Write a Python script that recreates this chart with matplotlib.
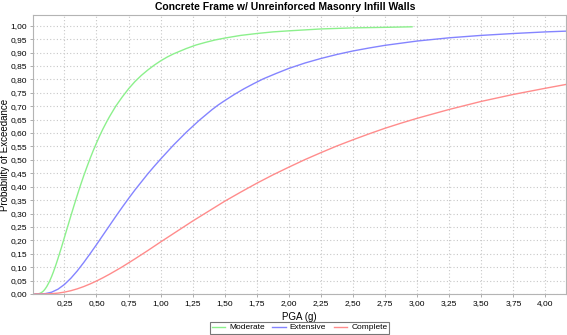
import numpy as np
import matplotlib
matplotlib.use("Agg")
import matplotlib.pyplot as plt
from matplotlib.ticker import FuncFormatter, MultipleLocator

# --- Dados (PGA em g, probabilidade de excedência) ---
title = "Concrete Frame w/ Unreinforced Masonry Infill Walls"
series_names = ["Moderate", "Extensive", "Complete"]

pga_moderate = [0.02, 0.03, 0.04, 0.05, 0.06, 0.07, 0.08, 0.09, 0.10, 0.1125,
                0.125, 0.1375, 0.15, 0.1625, 0.175, 0.1875, 0.20, 0.225, 0.25, 0.275,
                0.30, 0.325, 0.35, 0.375, 0.40, 0.425, 0.45, 0.475, 0.50, 0.525,
                0.55, 0.575, 0.60, 0.65, 0.70, 0.75, 0.80, 0.85, 0.90, 0.95,
                1.00, 1.05, 1.10, 1.20, 1.275, 1.35, 1.425, 1.50, 1.625, 1.75,
                1.875, 2.00, 2.25, 2.50, 2.75, 2.96]
prob_moderate = [0.0, 0.0001, 0.0004, 0.0012, 0.0027, 0.0051, 0.0085, 0.0131, 0.019, 0.0279,
                 0.039, 0.0511, 0.065, 0.0804, 0.097, 0.1144, 0.133, 0.171, 0.211, 0.251,
                 0.291, 0.330, 0.368, 0.405, 0.440, 0.473, 0.505, 0.535, 0.563, 0.590,
                 0.615, 0.638, 0.660, 0.700, 0.734, 0.765, 0.792, 0.815, 0.835, 0.853,
                 0.869, 0.883, 0.895, 0.915, 0.928, 0.938, 0.947, 0.954, 0.964, 0.971,
                 0.977, 0.981, 0.988, 0.992, 0.994, 0.996]

pga_extensive = [0.02, 0.05, 0.10, 0.15, 0.20, 0.25, 0.30, 0.35, 0.40, 0.45, 0.50,
                 0.55, 0.60, 0.65, 0.70, 0.75, 0.80, 0.85, 0.90, 0.95, 1.00,
                 1.05, 1.10, 1.15, 1.20, 1.25, 1.30, 1.35, 1.40, 1.45, 1.50,
                 1.575, 1.65, 1.725, 1.80, 1.90, 2.00, 2.125, 2.25, 2.375, 2.50,
                 2.625, 2.75, 2.875, 3.00, 3.25, 3.50, 3.75, 4.00, 4.17]
prob_extensive = [0.0, 0.0, 0.0013, 0.0067, 0.018, 0.0355, 0.0586, 0.086, 0.117, 0.150, 0.184,
                  0.219, 0.254, 0.289, 0.323, 0.356, 0.388, 0.418, 0.448, 0.476, 0.503,
                  0.529, 0.555, 0.579, 0.603, 0.625, 0.647, 0.667, 0.687, 0.705, 0.721,
                  0.744, 0.765, 0.784, 0.802, 0.822, 0.841, 0.861, 0.878, 0.893, 0.906,
                  0.917, 0.927, 0.935, 0.943, 0.955, 0.964, 0.971, 0.977, 0.980]

pga_complete = [0.02, 0.05, 0.10, 0.15, 0.20, 0.25, 0.30, 0.35, 0.40, 0.45, 0.50,
                0.55, 0.60, 0.65, 0.70, 0.75, 0.80, 0.90, 1.00, 1.125, 1.25,
                1.375, 1.50, 1.625, 1.75, 1.875, 2.00, 2.125, 2.25, 2.375, 2.50,
                2.625, 2.75, 2.875, 3.00, 3.25, 3.50, 3.75, 4.00, 4.17]
prob_complete = [0.0, 0.0, 0.0002, 0.0012, 0.0033, 0.0070, 0.0123, 0.0192, 0.0276, 0.0375, 0.0484,
                 0.0605, 0.0734, 0.0871, 0.101, 0.116, 0.131, 0.162, 0.194, 0.233, 0.272,
                 0.309, 0.346, 0.380, 0.413, 0.444, 0.473, 0.501, 0.527, 0.552, 0.575,
                 0.597, 0.618, 0.637, 0.655, 0.688, 0.718, 0.744, 0.767, 0.782]

colors = ["#8cf08c", "#8484ff", "#ff8c8c"]

# fonte parecida com a do JFreeChart
plt.rcParams["font.family"] = ["Liberation Sans", "DejaVu Sans"]

fig = plt.figure(figsize=(5.67, 3.35), dpi=100)
ax = fig.add_axes([33 / 567, 1 - 294 / 335, 533 / 567, 279 / 335])

ax.plot(pga_moderate, prob_moderate, color=colors[0], linewidth=1.0, label=series_names[0])
ax.plot(pga_extensive, prob_extensive, color=colors[1], linewidth=1.0, label=series_names[1])
ax.plot(pga_complete, prob_complete, color=colors[2], linewidth=1.0, label=series_names[2])

ax.set_xlim(0.005, 4.16)
ax.set_ylim(0, 1.04)

ax.xaxis.set_major_locator(MultipleLocator(0.25))
ax.yaxis.set_major_locator(MultipleLocator(0.05))
comma = FuncFormatter(lambda v, p: f"{v:.2f}".replace(".", ","))
ax.xaxis.set_major_formatter(comma)
ax.yaxis.set_major_formatter(comma)
ax.tick_params(labelsize=6, length=2, width=0.6, color="#a0a0a0", pad=2)

ax.grid(True, linestyle=(0, (1, 2)), color="#c8c8c8", linewidth=0.8)
ax.set_axisbelow(True)
for s in ax.spines.values():
    s.set_color("#b4b4b4")
    s.set_linewidth(0.8)

ax.set_xlabel("PGA (g)", fontsize=7, labelpad=4)
ax.set_ylabel("Probability of Exceedance", fontsize=7)
# posição fixa do rótulo Y (borda direita do texto em x ~ 10 px)
ax.yaxis.set_label_coords(-23 / 533, 0.5)
fig.suptitle(title, fontsize=7.5, fontweight="bold", x=0.503, y=0.995, va="top")

leg = fig.legend(loc="center", bbox_to_anchor=(299.5 / 567, 1 - 327.5 / 335), ncol=3,
                 fontsize=6, frameon=True, fancybox=False, handlelength=1.6,
                 handletextpad=0.5, columnspacing=0.9, borderpad=0.25,
                 borderaxespad=0)
leg.get_frame().set_edgecolor("#555555")
leg.get_frame().set_linewidth(0.8)

fig.savefig("out.png", dpi=100)
